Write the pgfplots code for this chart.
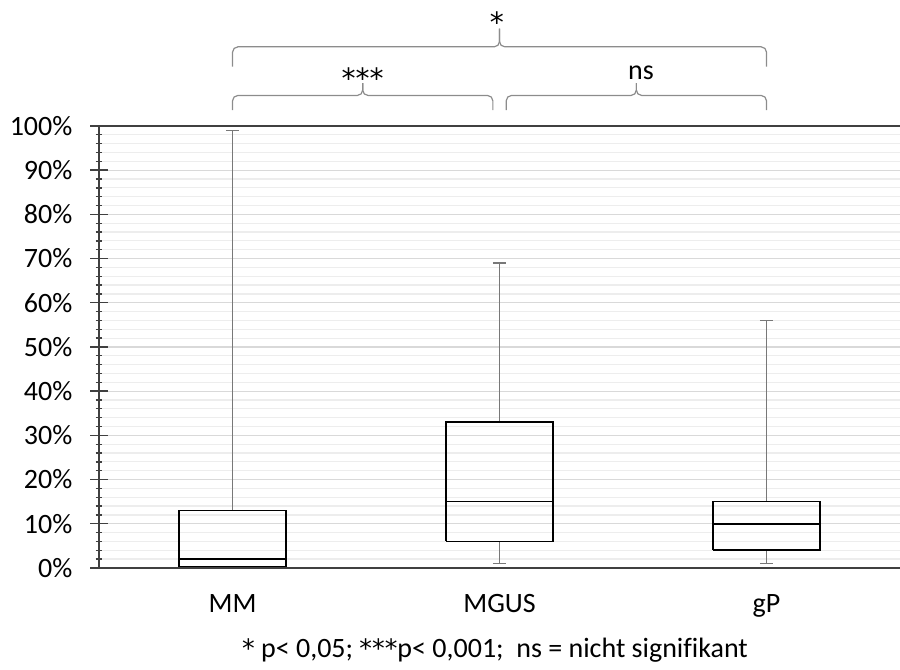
\documentclass[border=0pt]{standalone}
\usepackage{pgfplots}
\pgfplotsset{compat=1.18}
\usepackage{fontspec}
\setmainfont{Carlito}[Ligatures=NoCommon]
\newfontfamily\djv{DejaVu Sans}
\definecolor{whisk}{RGB}{120,120,120}
\definecolor{axln}{RGB}{64,64,64}
\definecolor{brc}{RGB}{140,140,140}
\newcommand{\bigf}{\fontsize{21}{25}\selectfont}
\newcommand{\starf}{\djv\fontsize{21}{25}\selectfont}
\newcommand{\cs}{{\djv\fontsize{19}{22}\selectfont *}}
\begin{document}
\begin{tikzpicture}
\begin{axis}[
  scale only axis, width=600.75pt, height=331.5pt,
  xmin=0.5, xmax=3.5, ymin=0, ymax=100,
  clip=false,
  axis x line*=bottom, axis y line*=left,
  axis line style={axln, line width=1.2pt},
  xtick={1,2,3}, xticklabels={MM,MGUS,gP},
  x tick style={draw=none},
  xticklabel style={font=\bigf, yshift=-10pt},
  ytick={0,10,20,30,40,50,60,70,80,90,100},
  yticklabels={0\%,10\%,20\%,30\%,40\%,50\%,60\%,70\%,80\%,90\%,100\%},
  yticklabel style={font=\bigf, xshift=-10pt},
  minor y tick num=4,
  tick align=center,
  major tick length=13pt, minor tick length=5pt,
  y tick style={axln, line width=1pt},
  ymajorgrids, yminorgrids,
  major grid style={black!15, line width=0.9pt},
  minor grid style={black!7, line width=0.9pt},
]
% MM: min 0, q1 0.3, median 2, q3 13, max 99
\addplot[whisk, line width=1.2pt] coordinates {(1,13) (1,99)};
\addplot[whisk, line width=1.2pt] coordinates {(0.975,99) (1.025,99)};
\addplot[black, line width=1.2pt] coordinates {(0.8,0.3) (1.2,0.3) (1.2,13) (0.8,13) (0.8,0.3)};
\addplot[black, line width=1.2pt] coordinates {(0.8,2) (1.2,2)};
% MGUS: min 1, q1 6, median 15, q3 33, max 69
\addplot[whisk, line width=1.2pt] coordinates {(2,33) (2,69)};
\addplot[whisk, line width=1.2pt] coordinates {(1.975,69) (2.025,69)};
\addplot[whisk, line width=1.2pt] coordinates {(2,6) (2,1)};
\addplot[whisk, line width=1.2pt] coordinates {(1.975,1) (2.025,1)};
\addplot[black, line width=1.2pt] coordinates {(1.8,6) (2.2,6) (2.2,33) (1.8,33) (1.8,6)};
\addplot[black, line width=1.2pt] coordinates {(1.8,15) (2.2,15)};
% gP: min 1, q1 4, median 10, q3 15, max 56
\addplot[whisk, line width=1.2pt] coordinates {(3,15) (3,56)};
\addplot[whisk, line width=1.2pt] coordinates {(2.975,56) (3.025,56)};
\addplot[whisk, line width=1.2pt] coordinates {(3,4) (3,1)};
\addplot[whisk, line width=1.2pt] coordinates {(2.975,1) (3.025,1)};
\addplot[black, line width=1.2pt] coordinates {(2.8,4) (3.2,4) (3.2,15) (2.8,15) (2.8,4)};
\addplot[black, line width=1.2pt] coordinates {(2.8,10) (3.2,10)};
% top axis line
\draw[axln, line width=1.2pt] (rel axis cs:0,1) -- (rel axis cs:1,1);
% braces
\draw[brc, line width=0.9pt, rounded corners=4pt] (axis cs:1,103.6) -- (axis cs:1,106.9) -- (axis cs:1.4875,106.9) -- (axis cs:1.4875,109.7);
\draw[brc, line width=0.9pt, rounded corners=4pt] (axis cs:1.4875,109.7) -- (axis cs:1.4875,106.9) -- (axis cs:1.975,106.9) -- (axis cs:1.975,103.6);
\draw[brc, line width=0.9pt, rounded corners=4pt] (axis cs:2.025,103.6) -- (axis cs:2.025,106.9) -- (axis cs:2.5125,106.9) -- (axis cs:2.5125,109.7);
\draw[brc, line width=0.9pt, rounded corners=4pt] (axis cs:2.5125,109.7) -- (axis cs:2.5125,106.9) -- (axis cs:3,106.9) -- (axis cs:3,103.6);
\draw[brc, line width=0.9pt, rounded corners=4pt] (axis cs:1,113.4) -- (axis cs:1,117.9) -- (axis cs:2,117.9) -- (axis cs:2,122.0);
\draw[brc, line width=0.9pt, rounded corners=4pt] (axis cs:2,122.0) -- (axis cs:2,117.9) -- (axis cs:3,117.9) -- (axis cs:3,113.4);
\node[font=\starf, inner sep=0pt, anchor=base] at (axis cs:1.4875,108.5) {***};
\node[font=\bigf, inner sep=0pt, anchor=base] at (axis cs:2.53,110.4) {ns};
\node[font=\starf, inner sep=0pt, anchor=base] at (axis cs:1.99,121.2) {*};
\node[font=\bigf, inner sep=0pt, anchor=base] at (axis cs:1.983,-20.36) {\cs\ p< 0,05; \cs\cs\cs p< 0,001;\ \ ns = nicht signifikant};
\coordinate (bbA) at (axis cs:0.129,-23.08);
\coordinate (bbB) at (axis cs:3.5,128.5);
\end{axis}
\pgfresetboundingbox
\path (bbA) rectangle (bbB);
\end{tikzpicture}
\end{document}
